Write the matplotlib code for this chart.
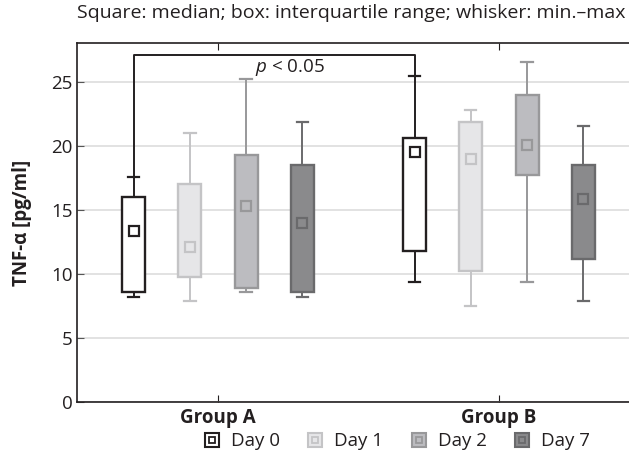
import numpy as np
import matplotlib.pyplot as plt
from matplotlib.lines import Line2D

plt.rcParams['font.family'] = ['Open Sans', 'DejaVu Sans']
plt.rcParams['mathtext.fontset'] = 'custom'
plt.rcParams['mathtext.it'] = 'Open Sans:italic'
plt.rcParams['mathtext.rm'] = 'Open Sans'

# dados
groups = ['Group A', 'Group B']
days = ['Day 0', 'Day 1', 'Day 2', 'Day 7']

# [Group A, Group B] para cada dia
mins = {'Day 0': [8.2, 9.4], 'Day 1': [7.9, 7.5], 'Day 2': [8.6, 9.4], 'Day 7': [8.2, 7.9]}
q1s = {'Day 0': [8.6, 11.8], 'Day 1': [9.8, 10.2], 'Day 2': [8.9, 17.7], 'Day 7': [8.6, 11.2]}
medians = {'Day 0': [13.4, 19.5], 'Day 1': [12.1, 19.0], 'Day 2': [15.35, 20.1], 'Day 7': [14.0, 15.9]}
q3s = {'Day 0': [16.0, 20.6], 'Day 1': [17.0, 21.9], 'Day 2': [19.3, 24.0], 'Day 7': [18.5, 18.5]}
maxs = {'Day 0': [17.6, 25.5], 'Day 1': [21.0, 22.8], 'Day 2': [25.2, 26.6], 'Day 7': [21.9, 21.6]}

fills = {'Day 0': '#ffffff', 'Day 1': '#e6e6e8', 'Day 2': '#bcbcc0', 'Day 7': '#8a8a8c'}
edges = {'Day 0': '#231f20', 'Day 1': '#c4c4c6', 'Day 2': '#98989a', 'Day 7': '#6a6a6c'}

offsets = [-0.3, -0.1, 0.1, 0.3]
width = 0.082
fs = 13.5
txt = '#231f20'

fig = plt.figure(figsize=(6.29, 4.67), dpi=100)
ax = fig.add_axes([0.1224, 0.139, 0.8776, 0.769])

for d, off in zip(days, offsets):
    stats = []
    for g in range(len(groups)):
        stats.append({'whislo': mins[d][g], 'q1': q1s[d][g], 'med': medians[d][g],
                      'q3': q3s[d][g], 'whishi': maxs[d][g]})
    pos = np.arange(len(groups)) + off
    ec = edges[d]
    ax.bxp(stats, positions=pos, widths=width, patch_artist=True, showfliers=False,
           capwidths=0.04,
           boxprops=dict(facecolor=fills[d], edgecolor=ec, linewidth=1.7),
           whiskerprops=dict(color=ec, linewidth=1.4),
           capprops=dict(color=ec, linewidth=1.6),
           medianprops=dict(linewidth=0), zorder=3)
    ax.plot(pos, medians[d], linestyle='none', marker='s', markersize=6.5,
            markerfacecolor=fills[d], markeredgecolor=ec, markeredgewidth=1.6, zorder=4)

# bracket de significância
xa, xb = -0.3, 0.7
yb = 27.1
ax.plot([xa, xa, xb, xb], [maxs['Day 0'][0], yb, yb, maxs['Day 0'][1]],
        color=txt, linewidth=1.4, zorder=2)
ax.text(0.256, 26.1, r'$p$ < 0.05', ha='center', va='center', fontsize=fs, color=txt)

ax.set_xlim(-0.502, 1.463)
ax.set_ylim(0, 28.05)
ax.set_yticks([0, 5, 10, 15, 20, 25])
ax.set_xticks([0, 1])
ax.set_xticklabels(groups, fontweight='bold', fontsize=fs)
ax.tick_params(axis='y', direction='in', length=5, labelsize=fs, color='#555555',
               labelcolor=txt, pad=3)
ax.tick_params(axis='x', direction='in', length=5, top=True, color=txt,
               labelcolor=txt, pad=4)
ax.yaxis.grid(True, color='#dddddd', linewidth=1.2, zorder=0)
ax.set_axisbelow(True)
for s in ['left', 'bottom', 'top']:
    ax.spines[s].set_color(txt)
    ax.spines[s].set_linewidth(1.2)
ax.spines['right'].set_visible(False)
ax.set_ylabel('TNF-α [pg/ml]', fontweight='bold', fontsize=fs, color=txt)
ax.yaxis.set_label_coords(-0.082, 0.5)

fig.text(0.995, 0.972, 'Square: median; box: interquartile range; whisker: min.–max',
         ha='right', va='center', fontsize=14, color=txt)

handles = []
for d in days:
    outer = Line2D([], [], linestyle='none', marker='s', markersize=10,
                   markerfacecolor=fills[d], markeredgecolor=edges[d], markeredgewidth=1.5)
    inner = Line2D([], [], linestyle='none', marker='s', markersize=4,
                   markerfacecolor=fills[d], markeredgecolor=edges[d], markeredgewidth=1.3)
    handles.append((outer, inner))
fig.legend(handles, days, loc='center', bbox_to_anchor=(0.63, 0.055), ncol=4,
           frameon=False, fontsize=fs, handlelength=1.0, handletextpad=0.5,
           columnspacing=1.4, labelcolor=txt)

plt.savefig('out.png', dpi=100)
